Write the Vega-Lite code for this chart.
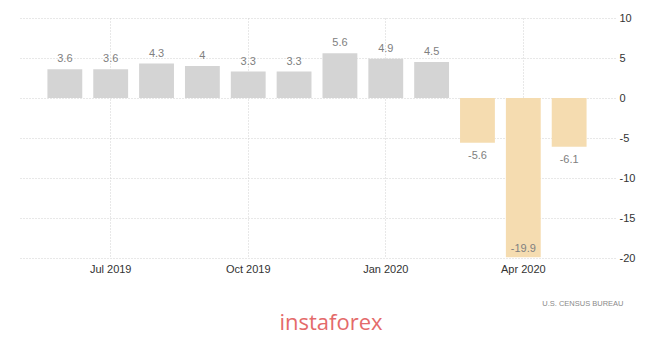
{
  "$schema": "https://vega.github.io/schema/vega-lite/v6.json",
  "width": 596,
  "height": 240,
  "autosize": {"type": "none"},
  "padding": {"left": 19, "top": 18, "right": 50, "bottom": 86},
  "background": "white",
  "config": {
    "view": {"stroke": null},
    "font": "Liberation Sans"
  },
  "title": {
    "text": "instaforex",
    "orient": "bottom",
    "anchor": "middle",
    "frame": "group",
    "dx": 14,
    "offset": 6,
    "fontSize": 22,
    "fontWeight": "normal",
    "color": "#e46a6a",
    "font": "Open Sans"
  },
  "data": {
    "values": [
      {"month": "Jun 2019", "value": 3.6},
      {"month": "Jul 2019", "value": 3.6},
      {"month": "Aug 2019", "value": 4.3},
      {"month": "Sep 2019", "value": 4},
      {"month": "Oct 2019", "value": 3.3},
      {"month": "Nov 2019", "value": 3.3},
      {"month": "Dec 2019", "value": 5.6},
      {"month": "Jan 2020", "value": 4.9},
      {"month": "Feb 2020", "value": 4.5},
      {"month": "Mar 2020", "value": -5.6},
      {"month": "Apr 2020", "value": -19.9},
      {"month": "May 2020", "value": -6.1}
    ]
  },
  "encoding": {
    "x": {
      "field": "month",
      "type": "ordinal",
      "sort": null,
      "scale": {"paddingInner": 0.24, "paddingOuter": 0.62},
      "axis": {
        "values": ["Jul 2019", "Oct 2019", "Jan 2020", "Apr 2020"],
        "labelAngle": 0,
        "grid": true,
        "gridDash": [1, 2],
        "gridColor": "#d0d0d0",
        "domain": false,
        "ticks": false,
        "labelPadding": 5,
        "labelFontSize": 11,
        "labelColor": "#333333",
        "title": "U.S.  CENSUS  BUREAU",
        "titleAnchor": "end",
        "titleAlign": "right",
        "titleX": 604,
        "titleY": 41,
        "titleFontSize": 7.5,
        "titleFontWeight": "normal",
        "titleColor": "#8a8a8a"
      }
    },
    "y": {
      "field": "value",
      "type": "quantitative",
      "scale": {"domain": [-20, 10], "nice": false},
      "axis": {
        "orient": "right",
        "values": [-20, -15, -10, -5, 0, 5, 10],
        "labelExpr": "datum.value + ''",
        "labelOverlap": false,
        "labelBound": false,
        "grid": true,
        "gridDash": [1, 2],
        "gridColor": "#d0d0d0",
        "domain": false,
        "ticks": false,
        "labelPadding": 4,
        "labelFontSize": 11,
        "labelColor": "#333333",
        "title": null
      }
    }
  },
  "layer": [
    {
      "mark": {"type": "bar"},
      "encoding": {
        "color": {
          "condition": {"test": "datum.value < 0", "value": "#f5dcb0"},
          "value": "#d4d4d4"
        }
      }
    },
    {
      "transform": [{"filter": "datum.value >= 0"}],
      "mark": {"type": "text", "baseline": "bottom", "dy": -5, "fontSize": 11, "color": "#808080"},
      "encoding": {
        "text": {"field": "value", "type": "nominal"}
      }
    },
    {
      "transform": [{"filter": "datum.value < 0 && datum.value > -15"}],
      "mark": {"type": "text", "baseline": "top", "dy": 7, "fontSize": 11, "color": "#808080"},
      "encoding": {
        "text": {"field": "value", "type": "nominal"}
      }
    },
    {
      "transform": [{"filter": "datum.value <= -15"}],
      "mark": {"type": "text", "baseline": "bottom", "dy": -3, "fontSize": 11, "color": "#808080"},
      "encoding": {
        "text": {"field": "value", "type": "nominal"}
      }
    }
  ]
}
